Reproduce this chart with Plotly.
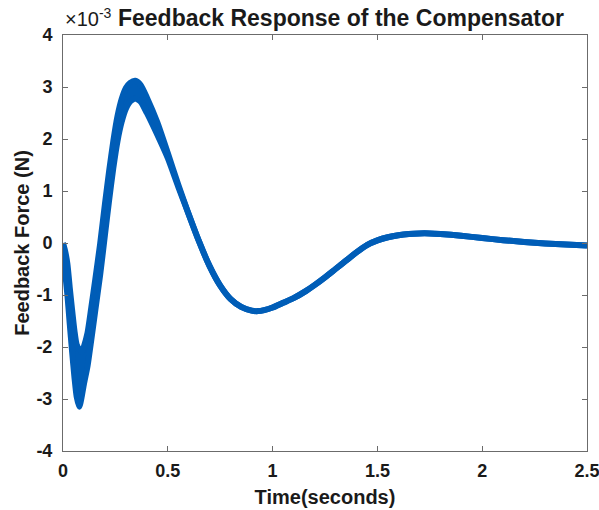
import numpy as np
import plotly.graph_objects as go

# ---- data (force values in units of 1e-3 N) ----
time_s = [0, 0.01, 0.021, 0.032, 0.043, 0.055, 0.065, 0.078, 0.09, 0.10,
          0.117, 0.135, 0.153, 0.177, 0.20, 0.22, 0.24, 0.26, 0.28, 0.30,
          0.32, 0.345, 0.37, 0.40, 0.45, 0.50, 0.55, 0.60, 0.65, 0.70,
          0.75, 0.80, 0.85, 0.90, 0.93, 0.96, 1.00, 1.05, 1.10, 1.16,
          1.20, 1.25, 1.30, 1.35, 1.40, 1.45, 1.50, 1.55, 1.60, 1.65,
          1.70, 1.75, 1.80, 1.90, 2.00, 2.10, 2.20, 2.30, 2.40, 2.50]
force_mN = [0, -0.35, -0.7, -1.2, -1.67, -2.15, -2.45, -2.6, -2.52, -2.35,
            -2.05, -1.55, -1.03, -0.32, 0.45, 1.1, 1.7, 2.2, 2.55, 2.78,
            2.9, 2.95, 2.88, 2.65, 2.2, 1.68, 1.1, 0.55, 0.02, -0.45,
            -0.82, -1.08, -1.23, -1.30, -1.31, -1.29, -1.24, -1.15, -1.06, -0.92,
            -0.81, -0.66, -0.50, -0.34, -0.18, -0.04, 0.05, 0.11, 0.15, 0.175,
            0.185, 0.185, 0.175, 0.14, 0.095, 0.055, 0.02, -0.01, -0.03, -0.05]
# half-amplitude of the high-frequency ripple band (1e-3 N)
ripple_mN = [0, 0.2, 0.3, 0.35, 0.4, 0.45, 0.5, 0.55, 0.42, 0.36,
             0.32, 0.31, 0.3, 0.3, 0.3, 0.28, 0.26, 0.24, 0.22, 0.2,
             0.18, 0.17, 0.16, 0.15, 0.12, 0.05, 0.02, 0, 0, 0,
             0, 0, 0, 0, 0, 0, 0, 0, 0, 0,
             0, 0, 0, 0, 0, 0, 0, 0, 0, 0,
             0, 0, 0, 0, 0, 0, 0, 0, 0, 0]

x_ticks = [0, 0.5, 1, 1.5, 2, 2.5]
x_tick_labels = ["0", "0.5", "1", "1.5", "2", "2.5"]
y_ticks_mN = [-4, -3, -2, -1, 0, 1, 2, 3, 4]
y_tick_labels = ["-4", "-3", "-2", "-1", "0", "1", "2", "3", "4"]

SCALE = 1e-3
t = np.array(time_s)
f = np.array(force_mN) * SCALE
r = np.array(ripple_mN) * SCALE
upper = f + r
lower = f - r

BLUE = "#005DB7"
AX = "#6b6b6b"
TXT = "#1a1a1a"
FONT = "Liberation Sans, Arial, sans-serif"

fig = go.Figure()
fig.add_trace(go.Scatter(x=t, y=lower, mode="lines",
                         line=dict(color=BLUE, width=6, shape="spline", smoothing=0.6),
                         showlegend=False, hoverinfo="skip"))
fig.add_trace(go.Scatter(x=t, y=upper, mode="lines",
                         line=dict(color=BLUE, width=6, shape="spline", smoothing=0.6),
                         fill="tonexty", fillcolor=BLUE,
                         showlegend=False, name="Feedback force"))

axis_common = dict(showline=True, linecolor=AX, linewidth=1, mirror="ticks",
                   ticks="inside", ticklen=5, tickcolor=AX, tickwidth=1,
                   showgrid=False, zeroline=False, automargin=False,
                   ticklabeloverflow="allow",
                   tickfont=dict(family=FONT, size=18, color=TXT, weight="bold"))

fig.update_layout(
    width=599, height=510,
    margin=dict(l=63, r=12, t=35, b=59),
    paper_bgcolor="white", plot_bgcolor="white",
    font=dict(family=FONT, color=TXT),
    title=dict(text="<b>Feedback Response of the Compensator</b>",
               font=dict(family=FONT, size=23, color=TXT),
               x=341 / 599, xref="container", xanchor="center",
               y=1 - 18 / 510, yref="container", yanchor="middle"),
    xaxis=dict(range=[0, 2.5], tickvals=x_ticks, ticktext=x_tick_labels,
               ticklabelstandoff=3,
               title=dict(text="<b>Time(seconds)</b>", standoff=10,
                          font=dict(family=FONT, size=20, color=TXT)),
               **axis_common),
    yaxis=dict(range=[-4 * SCALE, 4 * SCALE],
               tickvals=[v * SCALE for v in y_ticks_mN], ticktext=y_tick_labels,
               ticklabelstandoff=6,
               title=dict(text="<b>Feedback Force (N)</b>", standoff=1,
                          font=dict(family=FONT, size=20, color=TXT)),
               **axis_common),
    annotations=[dict(text="\u00d710<sup>-3</sup>", xref="paper", yref="paper",
                      x=0, y=1, xanchor="left", yanchor="bottom", yshift=3,
                      showarrow=False,
                      font=dict(family=FONT, size=20, color=TXT))],
)

fig.write_html("out.html")
